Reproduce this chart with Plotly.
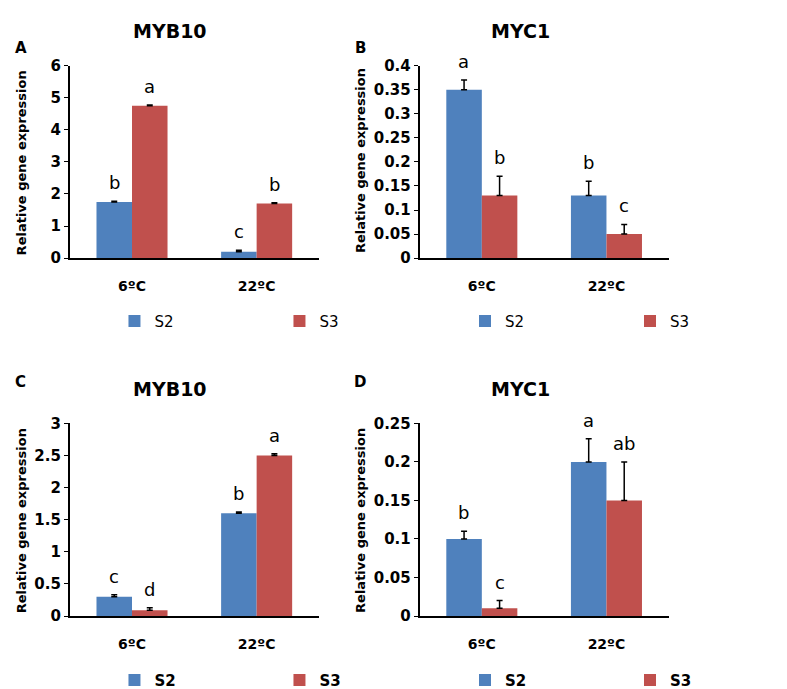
import plotly.graph_objects as go
from plotly.subplots import make_subplots

categories = ["6ºC", "22ºC"]
series_names = ["S2", "S3"]

# Panel A: MYB10
a_s2 = [1.75, 0.20]
a_s2_err = [0.02, 0.05]
a_s3 = [4.75, 1.70]
a_s3_err = [0.02, 0.03]
a_s2_letters = ["b", "c"]
a_s3_letters = ["a", "b"]

# Panel B: MYC1
b_s2 = [0.35, 0.13]
b_s2_err = [0.02, 0.03]
b_s3 = [0.13, 0.05]
b_s3_err = [0.04, 0.02]
b_s2_letters = ["a", "b"]
b_s3_letters = ["b", "c"]

# Panel C: MYB10
c_s2 = [0.30, 1.60]
c_s2_err = [0.03, 0.02]
c_s3 = [0.09, 2.50]
c_s3_err = [0.04, 0.03]
c_s2_letters = ["c", "b"]
c_s3_letters = ["d", "a"]

# Panel D: MYC1
d_s2 = [0.10, 0.20]
d_s2_err = [0.01, 0.03]
d_s3 = [0.01, 0.15]
d_s3_err = [0.01, 0.05]
d_s2_letters = ["b", "a"]
d_s3_letters = ["c", "ab"]

titles = ["MYB10", "MYC1", "MYB10", "MYC1"]
panel_letters = ["A", "B", "C", "D"]
y_ranges = [[0, 6], [0, 0.4], [0, 3], [0, 0.25]]
y_dticks = [1, 0.05, 0.5, 0.05]
y_title = "Relative gene expression"

BLUE = "#4F81BD"
RED = "#C0504D"
FONT = "'DejaVu Sans', sans-serif"

W, H = 787, 689

panels = [
    (a_s2, a_s2_err, a_s3, a_s3_err, a_s2_letters, a_s3_letters),
    (b_s2, b_s2_err, b_s3, b_s3_err, b_s2_letters, b_s3_letters),
    (c_s2, c_s2_err, c_s3, c_s3_err, c_s2_letters, c_s3_letters),
    (d_s2, d_s2_err, d_s3, d_s3_err, d_s2_letters, d_s3_letters),
]

# pixel geometry of plot areas (left, right, top, bottom)
px_boxes = [
    (73, 368, 50, 248),
    (487, 782, 50, 248),
    (73, 368, 418, 616),
    (487, 782, 418, 616),
]

fig = make_subplots(rows=2, cols=2)
legend_names = ["legend", "legend2", "legend3", "legend4"]
bar_half = 0.143

annotations = []
for i, (s2, s2e, s3, s3e, l2, l3) in enumerate(panels):
    r, c = i // 2 + 1, i % 2 + 1
    for name, vals, errs, color in [("S2", s2, s2e, BLUE), ("S3", s3, s3e, RED)]:
        fig.add_trace(
            go.Bar(
                x=categories, y=vals, name=name,
                marker=dict(color=color, line=dict(width=0)),
                error_y=dict(type="data", array=errs, arrayminus=[0] * len(errs),
                             symmetric=False, color="black", thickness=1.5, width=3),
                legend=legend_names[i],
            ),
            row=r, col=c,
        )
    xref = "x" if i == 0 else f"x{i+1}"
    yref = "y" if i == 0 else f"y{i+1}"
    for j in range(len(categories)):
        for off, vals, errs, lets in [(-bar_half, s2, s2e, l2), (bar_half, s3, s3e, l3)]:
            annotations.append(dict(
                x=j + off, y=vals[j] + errs[j], xref=xref, yref=yref,
                text=lets[j], showarrow=False, yanchor="bottom", yshift=6,
                font=dict(family=FONT, size=18, color="black"),
            ))

    L, R, T, B = px_boxes[i]
    xd = [L / W, R / W]
    yd = [1 - B / H, 1 - T / H]
    axn = "" if i == 0 else str(i + 1)
    fig.layout["xaxis" + axn].update(
        domain=xd, showline=True, linecolor="black", linewidth=1.5,
        ticks="", showgrid=False, zeroline=False,
        tickfont=dict(family=FONT, size=14, color="black", weight="bold"),
        ticklabelstandoff=14,
    )
    fig.layout["yaxis" + axn].update(
        domain=yd, range=y_ranges[i], dtick=y_dticks[i], tick0=0,
        showline=True, linecolor="black", linewidth=1.5,
        ticks="outside", ticklen=4, tickcolor="black", tickwidth=1.2,
        showgrid=False, zeroline=False,
        tickfont=dict(family=FONT, size=15, color="black", weight="bold"),
    )

    title_y = 14 if i < 2 else 383
    annotations.append(dict(
        x=[192, 606, 192, 606][i] / W, y=1 - title_y / H, xref="paper", yref="paper",
        text=f"<b>{titles[i]}</b>", showarrow=False, xanchor="center", yanchor="middle",
        font=dict(family=FONT, size=19, color="black"),
    ))
    annotations.append(dict(
        x=[15, 417, 15, 417][i] / W, y=1 - [32, 32, 375, 375][i] / H,
        xref="paper", yref="paper", text=f"<b>{panel_letters[i]}</b>", showarrow=False,
        xanchor="center", yanchor="middle",
        font=dict(family=FONT, size=15, color="black"),
    ))
    annotations.append(dict(
        x=[16, 418, 16, 418][i] / W, y=1 - [150, 148, 518, 518][i] / H,
        xref="paper", yref="paper", text=f"<b>{y_title}</b>", showarrow=False,
        textangle=-90, xanchor="center", yanchor="middle",
        font=dict(family=FONT, size=13, color="black"),
    ))

legend_positions = [(126, 313), (541, 313), (126, 682), (541, 682)]
for i, ln in enumerate(legend_names):
    lx, ly = legend_positions[i]
    fig.layout[ln] = dict(
        orientation="h", x=lx / W, y=1 - ly / H, xanchor="left", yanchor="middle",
        xref="paper", yref="paper",
        entrywidth=120, entrywidthmode="pixels",
        font=dict(family=FONT, size=15, color="black",
                  weight="bold" if i >= 2 else "normal"),
        bgcolor="rgba(0,0,0,0)",
    )

fig.update_layout(
    width=W, height=H,
    margin=dict(l=0, r=0, t=0, b=0),
    plot_bgcolor="white", paper_bgcolor="white",
    barmode="group", bargap=0.43, bargroupgap=0,
    annotations=annotations,
    font=dict(family=FONT),
)

fig.write_html("out.html")
